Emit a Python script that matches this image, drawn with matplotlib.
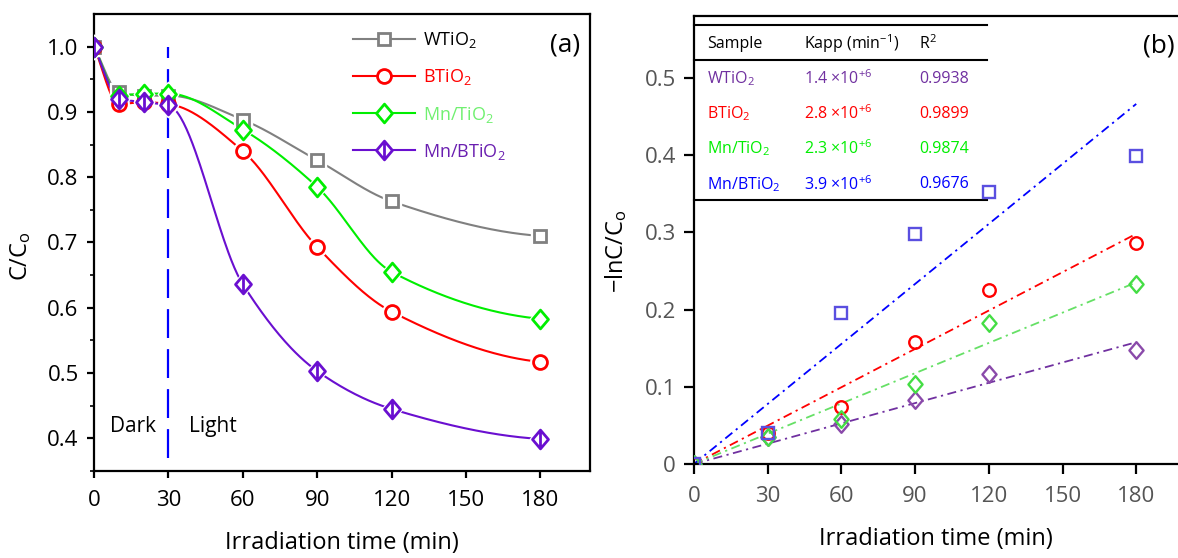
import numpy as np
import matplotlib
matplotlib.use("Agg")
import matplotlib.pyplot as plt
from matplotlib.path import Path
from matplotlib.lines import Line2D

plt.rcParams['font.family'] = ['Open Sans', 'DejaVu Sans']
plt.rcParams['mathtext.default'] = 'regular'

# ---- data, panel (a) ----
t_a = [0, 10, 20, 30, 60, 90, 120, 180]
w_tio2 = [1.0, 0.930, 0.925, 0.925, 0.888, 0.826, 0.763, 0.710]
b_tio2 = [1.0, 0.912, 0.915, 0.912, 0.840, 0.693, 0.594, 0.517]
mn_tio2 = [1.0, 0.925, 0.928, 0.928, 0.873, 0.785, 0.655, 0.583]
mn_btio2 = [1.0, 0.920, 0.915, 0.910, 0.636, 0.503, 0.445, 0.399]

# ---- data, panel (b) ----
t_b = [0, 30, 60, 90, 120, 180]
lw_tio2 = [0, 0.035, 0.052, 0.083, 0.116, 0.147]
lb_tio2 = [0, 0.040, 0.074, 0.158, 0.225, 0.286]
lmn_tio2 = [0, 0.035, 0.058, 0.103, 0.182, 0.233]
lmn_btio2 = [0, 0.040, 0.196, 0.298, 0.352, 0.399]

samples = ['WTiO$_2$', 'BTiO$_2$', 'Mn/TiO$_2$', 'Mn/BTiO$_2$']
kapp = ['1.4 \u00d710$^{+6}$', '2.8 \u00d710$^{+6}$', '2.3 \u00d710$^{+6}$', '3.9 \u00d710$^{+6}$']
r2 = ['0.9938', '0.9899', '0.9874', '0.9676']


def pchip(x, y, n=300):
  # monotone cubic for the smooth connecting line
  x = np.asarray(x, float)
  y = np.asarray(y, float)
  h = np.diff(x)
  d = np.diff(y) / h
  m = np.zeros_like(y)
  for k in range(1, len(x) - 1):
    if d[k - 1] * d[k] > 0:
      w1 = 2 * h[k] + h[k - 1]
      w2 = h[k] + 2 * h[k - 1]
      m[k] = (w1 + w2) / (w1 / d[k - 1] + w2 / d[k])
  m[0] = d[0]
  m[-1] = d[-1] * 0.3
  xs = np.linspace(x[0], x[-1], n)
  idx = np.clip(np.searchsorted(x, xs) - 1, 0, len(x) - 2)
  hk = h[idx]
  s = (xs - x[idx]) / hk
  h00 = 2 * s**3 - 3 * s**2 + 1
  h10 = s**3 - 2 * s**2 + s
  h01 = -2 * s**3 + 3 * s**2
  h11 = s**3 - s**2
  ys = h00 * y[idx] + h10 * hk * m[idx] + h01 * y[idx + 1] + h11 * hk * m[idx + 1]
  return xs, ys


# diamond markers (plain and with vertical bar)
diamond = Path([(0, -1), (0.85, 0), (0, 1), (-0.85, 0), (0, -1)],
               [Path.MOVETO, Path.LINETO, Path.LINETO, Path.LINETO, Path.CLOSEPOLY])
diamond_bar = Path([(0, -1), (0.85, 0), (0, 1), (-0.85, 0), (0, -1), (0, -1), (0, 1)],
                   [Path.MOVETO, Path.LINETO, Path.LINETO, Path.LINETO, Path.CLOSEPOLY,
                    Path.MOVETO, Path.LINETO])

fig = plt.figure(figsize=(11.78, 5.58), dpi=100)
ax1 = fig.add_axes([0.0798, 0.156, 0.421, 0.819])
ax2 = fig.add_axes([0.5891, 0.1685, 0.4109, 0.8028])

# ---------------- panel (a) ----------------
series_a = [
  (w_tio2, '#808080', 's', 9, 'WTiO$_2$', 'black'),
  (b_tio2, '#ff0000', 'o', 10, 'BTiO$_2$', '#ff0000'),
  (mn_tio2, '#00ee00', diamond, 13.5, 'Mn/TiO$_2$', '#70f070'),
  (mn_btio2, '#6a0fd0', diamond_bar, 13.5, 'Mn/BTiO$_2$', '#6a1fb0'),
]
handles = []
for vals, col, mk, ms, lab, tcol in series_a:
  xs, ys = pchip(t_a, vals)
  ax1.plot(xs, ys, color=col, lw=1.5, zorder=2)
  ax1.plot(t_a, vals, ls='none', marker=mk, ms=ms + 4, mfc='white', mec='white', zorder=3)
  ax1.plot(t_a, vals, ls='none', marker=mk, ms=ms, mfc='white', mec=col, mew=2, zorder=4)
  handles.append(Line2D([], [], color=col, lw=1.5, marker=mk, ms=ms, mfc='white', mec=col, mew=2))

leg = ax1.legend(handles, [s[4] for s in series_a], loc='upper left', bbox_to_anchor=(0.49, 1.0),
                 frameon=False, fontsize=13, handlelength=3.4, handletextpad=0.45, labelspacing=0.95)
for txt, s in zip(leg.get_texts(), series_a):
  txt.set_color(s[5])

ax1.axvline(30, ymin=(0.37 - 0.35) / 0.7, ymax=(1.0 - 0.35) / 0.7, color='#0000ff', lw=1.6,
            dashes=(13, 5), zorder=1)
ax1.text(6.4, 0.418, 'Dark', fontsize=15, va='center')
ax1.text(38.5, 0.418, 'Light', fontsize=15, va='center')
ax1.text(0.98, 0.96, '(a)', transform=ax1.transAxes, fontsize=19, ha='right', va='top')

ax1.set_xlim(0, 200)
ax1.set_ylim(0.35, 1.05)
ax1.set_xticks([0, 30, 60, 90, 120, 150, 180])
ax1.set_yticks([0.4, 0.5, 0.6, 0.7, 0.8, 0.9, 1.0])
ax1.set_yticks(np.arange(0.35, 1.05, 0.1), minor=True)
ax1.set_xlabel('Irradiation time (min)', fontsize=17, labelpad=14)
ax1.set_ylabel('C/C$_o$', fontsize=17)
ax1.yaxis.set_label_coords(-0.123, 0.47)

# ---------------- panel (b) ----------------
series_b = [
  (lw_tio2, '#8a4aaa', diamond, 12, '#7030a0'),
  (lb_tio2, '#ff0000', 'o', 9, '#ff0000'),
  (lmn_tio2, '#44dd44', diamond, 12, '#66e066'),
  (lmn_btio2, '#5a4fe0', 's', 8.5, '#0000ff'),
]
tb = np.asarray(t_b, float)
for vals, mcol, mk, ms, lcol in series_b:
  v = np.asarray(vals, float)
  k = np.sum(tb * v) / np.sum(tb * tb)  # fit through origin
  ax2.plot([0, 180], [0, k * 180], color=lcol, lw=1.3, dashes=(5, 2.5, 1.2, 2.5), zorder=2)
  ax2.plot(t_b, vals, ls='none', marker=mk, ms=ms, mfc='none', mec=mcol, mew=1.7, zorder=3)
ax2.plot([0], [0], marker='+', color='black', ms=6, mew=1.2, zorder=5)

# table
tab_cols = ['#7030a0', '#ff0000', '#00ee00', '#0000ff']
x_end = 0.605
for yl in [0.980, 0.902, 0.589]:
  ax2.plot([0, x_end], [yl, yl], transform=ax2.transAxes, color='black', lw=1.5, clip_on=False)
hy = 0.938
ax2.text(0.027, hy, 'Sample', transform=ax2.transAxes, fontsize=11.5, va='center')
ax2.text(0.227, hy, 'Kapp (min$^{-1}$)', transform=ax2.transAxes, fontsize=11.5, va='center')
ax2.text(0.465, hy, 'R$^2$', transform=ax2.transAxes, fontsize=11.5, va='center')
for i, (s, kv, rv, c) in enumerate(zip(samples, kapp, r2, tab_cols)):
  y = 0.860 - i * 0.0785
  ax2.text(0.027, y, s, transform=ax2.transAxes, fontsize=11.5, va='center', color=c)
  ax2.text(0.227, y, kv, transform=ax2.transAxes, fontsize=11.5, va='center', color=c)
  ax2.text(0.465, y, rv, transform=ax2.transAxes, fontsize=11.5, va='center', color=c)

ax2.text(0.994, 0.96, '(b)', transform=ax2.transAxes, fontsize=19, ha='right', va='top')

ax2.set_xlim(0, 197)
ax2.set_ylim(0, 0.58)
ax2.set_xticks([0, 30, 60, 90, 120, 150, 180])
ax2.set_yticks([0, 0.1, 0.2, 0.3, 0.4, 0.5])
ax2.set_yticklabels(['0', '0.1', '0.2', '0.3', '0.4', '0.5'])
ax2.set_xlabel('Irradiation time (min)', fontsize=17, labelpad=14)
ax2.set_ylabel('\u2212lnC/C$_o$', fontsize=17)
ax2.yaxis.set_label_coords(-0.134, 0.475)

for ax in (ax1, ax2):
  for sp in ax.spines.values():
    sp.set_linewidth(1.6)
  ax.tick_params(which='major', direction='out', length=5, width=1.6, labelsize=16, pad=6)
  ax.tick_params(which='minor', direction='out', length=3, width=1.2)
  ax.tick_params(axis='x', which='major', pad=9)
ax2.spines['right'].set_visible(False)
ax2.tick_params(which='major', length=7)
ax2.tick_params(labelcolor='#555555')

fig.savefig('out.png', dpi=100)
